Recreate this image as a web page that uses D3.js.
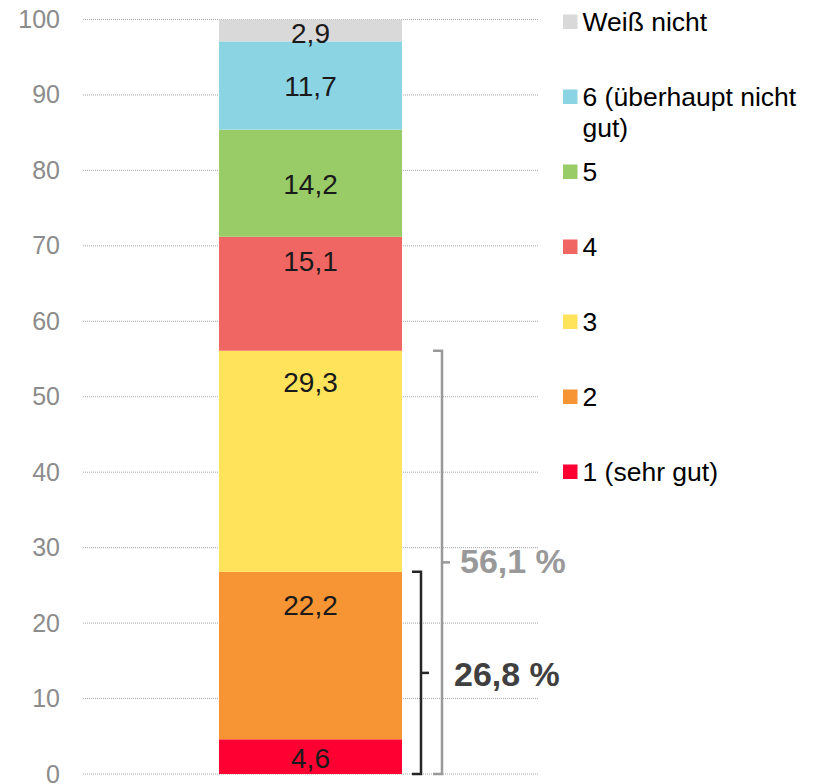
<!DOCTYPE html>
<html>
<head>
<meta charset="utf-8">
<script src="https://cdn.jsdelivr.net/npm/d3@7"></script>
<style>
  body { margin: 0; background: #fff; }
  svg { font-family: "Liberation Sans", Arial, sans-serif; }
</style>
</head>
<body>
<div id="chart"></div>
<script>
// Stacked single-column chart: ratings 1 (sehr gut) .. 6, plus "Weiß nicht"

const categories = ['1 (sehr gut)', '2', '3', '4', '5', '6 (überhaupt nicht gut)', 'Weiß nicht'];
const values = [4.6, 22.2, 29.3, 15.1, 14.2, 11.7, 2.9];
const colors = ['#ff0033', '#f79433', '#ffe35a', '#f06662', '#99cc66', '#8bd4e4', '#d9d9d9'];
const yTicks = [0, 10, 20, 30, 40, 50, 60, 70, 80, 90, 100];

// bracket groups: how many of the lowest segments are summed
const brackets = [
  { count: 3, color: '#999999' },
  { count: 2, color: '#262626' }
];

const width = 815;
const height = 784;
const margin = { top: 19.5, right: 277, bottom: 10, left: 83 };

const svg = d3.select('#chart')
  .append('svg')
  .attr('width', width)
  .attr('height', height);

const y = d3.scaleLinear()
  .domain([0, 100])
  .range([height - margin.bottom, margin.top]);

const x = d3.scaleBand()
  .domain(['all'])
  .range([margin.left, width - margin.right])
  .paddingInner(0)
  .paddingOuter(0.743);

// gridlines
svg.append('g')
  .selectAll('line')
  .data(yTicks)
  .join('line')
  .attr('x1', margin.left)
  .attr('x2', width - margin.right)
  .attr('y1', d => y(d))
  .attr('y2', d => y(d))
  .attr('stroke', '#a6a6a6')
  .attr('stroke-width', 1)
  .attr('stroke-dasharray', '1,1');

// y axis labels
const yAxis = d3.axisLeft(y).tickValues(yTicks).tickSize(0).tickPadding(0);
svg.append('g')
  .attr('transform', 'translate(60,0)')
  .call(yAxis)
  .call(g => g.select('.domain').remove())
  .selectAll('text')
  .attr('font-family', '"Liberation Sans", Arial, sans-serif')
  .style('font-size', '25px')
  .attr('fill', '#8c8c8c');

// stack
let acc = 0;
const segments = values.map((v, i) => {
  const s = { name: categories[i], value: v, y0: acc, y1: acc + v, color: colors[i] };
  acc += v;
  return s;
});

svg.append('g')
  .selectAll('rect')
  .data(segments)
  .join('rect')
  .attr('x', x('all'))
  .attr('width', x.bandwidth())
  .attr('y', d => y(d.y1))
  .attr('height', d => y(d.y0) - y(d.y1))
  .attr('fill', d => d.color);

// value labels, sit near the top of each segment
const labelDy = [19, 33, 31, 24, 55, 45, 13.5];
svg.append('g')
  .selectAll('text')
  .data(segments)
  .join('text')
  .attr('x', x('all') + x.bandwidth() / 2)
  .attr('y', (d, i) => y(d.y1) + labelDy[i])
  .attr('dy', '0.35em')
  .attr('text-anchor', 'middle')
  .style('font-size', '28px')
  .attr('fill', '#1a1a1a')
  .text(d => d3.format('.1f')(d.value).replace('.', ','));

// legend (top to bottom = reverse stack order)
const legendItems = segments.slice().reverse();
const legendY = [22, 97, 172, 247, 322, 397, 472];
const legend = svg.append('g');
legendItems.forEach((d, i) => {
  const g = legend.append('g').attr('transform', `translate(563,${legendY[i]})`);
  g.append('rect')
    .attr('x', 0)
    .attr('y', -7.5)
    .attr('width', 14.5)
    .attr('height', 14.5)
    .attr('fill', d.color);
  const t = g.append('text')
    .attr('x', 19.5)
    .attr('y', 0)
    .attr('dy', '0.35em')
    .style('font-size', '26.5px')
    .attr('fill', '#000');
  if (d.name.startsWith('6')) {
    t.append('tspan').attr('x', 19.5).text('6 (überhaupt nicht');
    t.append('tspan').attr('x', 19.5).attr('dy', '1.17em').text('gut)');
  } else {
    t.text(d.name);
  }
});

// brackets
function drawBracket(top, bottom, xLine, color, label, labelX, labelY, fontSize) {
  const g = svg.append('g');
  const mid = (y(top) + y(bottom)) / 2;
  g.append('path')
    .attr('d', `M${xLine - 9},${y(top)} L${xLine},${y(top)} L${xLine},${y(bottom)} L${xLine - 9},${y(bottom)}`)
    .attr('fill', 'none')
    .attr('stroke', color)
    .attr('stroke-width', 2.5);
  g.append('line')
    .attr('x1', xLine)
    .attr('x2', xLine + 8)
    .attr('y1', mid)
    .attr('y2', mid)
    .attr('stroke', color)
    .attr('stroke-width', 2.5);
  g.append('text')
    .attr('x', labelX)
    .attr('y', labelY)
    .attr('dy', '0.35em')
    .style('font-size', fontSize + 'px')
    .style('font-weight', 'bold')
    .attr('fill', color === '#262626' ? '#404040' : color)
    .text(label);
}

const sum3 = d3.sum(values.slice(0, brackets[0].count));
const sum2 = d3.sum(values.slice(0, brackets[1].count));
drawBracket(sum3, 0, 442, brackets[0].color, d3.format('.1f')(sum3).replace('.', ',') + ' %', 460, 561, 34);
drawBracket(sum2, 0, 421, brackets[1].color, d3.format('.1f')(sum2).replace('.', ',') + ' %', 454, 674, 34);
</script>
</body>
</html>
